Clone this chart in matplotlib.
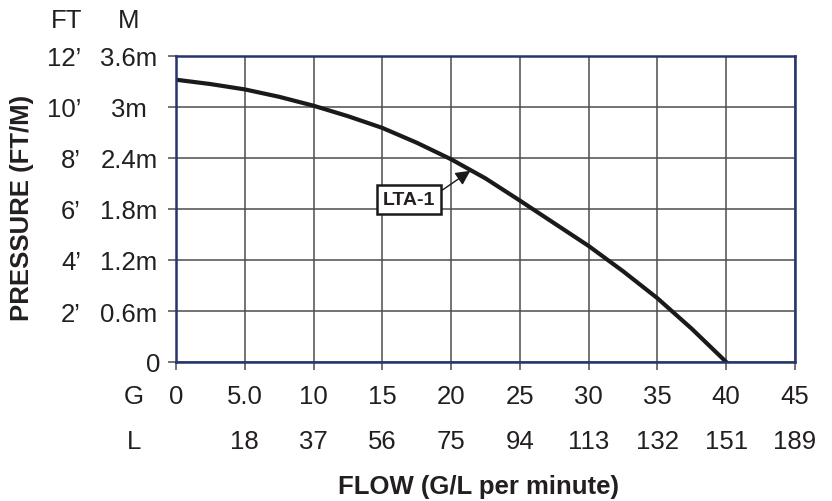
import matplotlib
matplotlib.use("Agg")
import matplotlib.pyplot as plt
import matplotlib.transforms as mtransforms

# pump curve (flow in G/min, head in feet)
flow_gpm = [0, 2.5, 5, 7.5, 10, 12.5, 15, 17.5, 20, 22.5, 25, 27.5, 30, 32.5, 35, 37.5, 40]
pressure_ft = [11.07, 10.90, 10.69, 10.40, 10.05, 9.64, 9.18, 8.60, 7.95, 7.20, 6.33,
               5.44, 4.55, 3.56, 2.50, 1.30, 0]

# axis ticks and their paired labels
g_ticks = [0, 5, 10, 15, 20, 25, 30, 35, 40, 45]
g_labels = ["0", "5.0", "10", "15", "20", "25", "30", "35", "40", "45"]
l_labels = ["", "18", "37", "56", "75", "94", "113", "132", "151", "189"]
ft_ticks = [0, 2, 4, 6, 8, 10, 12]
ft_labels = ["", "2\u2019", "4\u2019", "6\u2019", "8\u2019", "10\u2019", "12\u2019"]
m_labels = ["", "0.6m", "1.2m", "1.8m", "2.4m", "3m", "3.6m"]

series_name = "LTA-1"

TEXT = "#231f20"
FRAME = "#27346f"
GRID = "#4d4d4d"
FS = 18.5

plt.rcParams['font.family'] = ['Liberation Sans', 'DejaVu Sans']

W, H = 832, 502
fig = plt.figure(figsize=(W / 100, H / 100), dpi=100)
ax = fig.add_axes([176 / W, 1 - 363 / H, (795 - 176) / W, (363 - 57) / H])

ax.plot(flow_gpm, pressure_ft, color="#1a1a1a", lw=3.0, solid_joinstyle="round", zorder=3)

ax.set_xlim(0, 45)
ax.set_ylim(0, 12)
ax.set_xticks(g_ticks)
ax.set_yticks(ft_ticks)
ax.set_xticklabels([])
ax.set_yticklabels([])
ax.tick_params(direction="out", length=6, width=1.1, color=GRID)
ax.grid(True, color=GRID, lw=1.1)
ax.set_axisbelow(True)
for sp in ax.spines.values():
    sp.set_color(FRAME)
    sp.set_linewidth(1.8)
    sp.set_zorder(4)

# y labels: feet and metre columns
ytr = mtransforms.blended_transform_factory(fig.transFigure, ax.transData)
for t, ft, m in zip(ft_ticks, ft_labels, m_labels):
    if ft:
        ax.text(81 / W, t, ft, transform=ytr, ha="right", va="center_baseline",
                fontsize=FS, color=TEXT)
    if m:
        ax.text(129 / W, t, m, transform=ytr, ha="center", va="center_baseline",
                fontsize=FS, color=TEXT)
ax.text(160 / W, 0, "0", transform=ytr, ha="right", va="center_baseline",
        fontsize=FS, color=TEXT)
fig.text(67 / W, 1 - 19 / H, "FT", ha="center", va="center_baseline", fontsize=FS, color=TEXT)
fig.text(129 / W, 1 - 19 / H, "M", ha="center", va="center_baseline", fontsize=FS, color=TEXT)
fig.text(22 / W, 1 - 208 / H, "PRESSURE (FT/M)", rotation=90, ha="center", va="center",
         fontsize=FS, fontweight="bold", color=TEXT)

# x labels: gallons and litres rows
xtr = mtransforms.blended_transform_factory(ax.transData, fig.transFigure)
for t, g, l in zip(g_ticks, g_labels, l_labels):
    ax.text(t, 1 - 395 / H, g, transform=xtr, ha="center", va="center_baseline",
            fontsize=FS, color=TEXT)
    if l:
        ax.text(t, 1 - 440 / H, l, transform=xtr, ha="center", va="center_baseline",
                fontsize=FS, color=TEXT)
fig.text(134 / W, 1 - 395 / H, "G", ha="center", va="center_baseline", fontsize=FS, color=TEXT)
fig.text(134 / W, 1 - 440 / H, "L", ha="center", va="center_baseline", fontsize=FS, color=TEXT)
fig.text(479 / W, 1 - 485 / H, "FLOW (G/L per minute)", ha="center", va="center_baseline",
         fontsize=FS, fontweight="bold", color=TEXT)

# series callout
ax.annotate(series_name, xy=(21.4, 7.5), xytext=(16.93, 6.38),
            ha="center", va="center", fontsize=14, fontweight="bold", color=TEXT,
            bbox=dict(boxstyle="square,pad=0.3", fc="white", ec="#1a1a1a", lw=1.8),
            arrowprops=dict(arrowstyle="-|>", color="#1a1a1a", lw=1.0,
                            mutation_scale=22, relpos=(1.0, 0.75), shrinkA=0, shrinkB=0),
            zorder=5)

fig.savefig("out.png", dpi=100, facecolor="white")
